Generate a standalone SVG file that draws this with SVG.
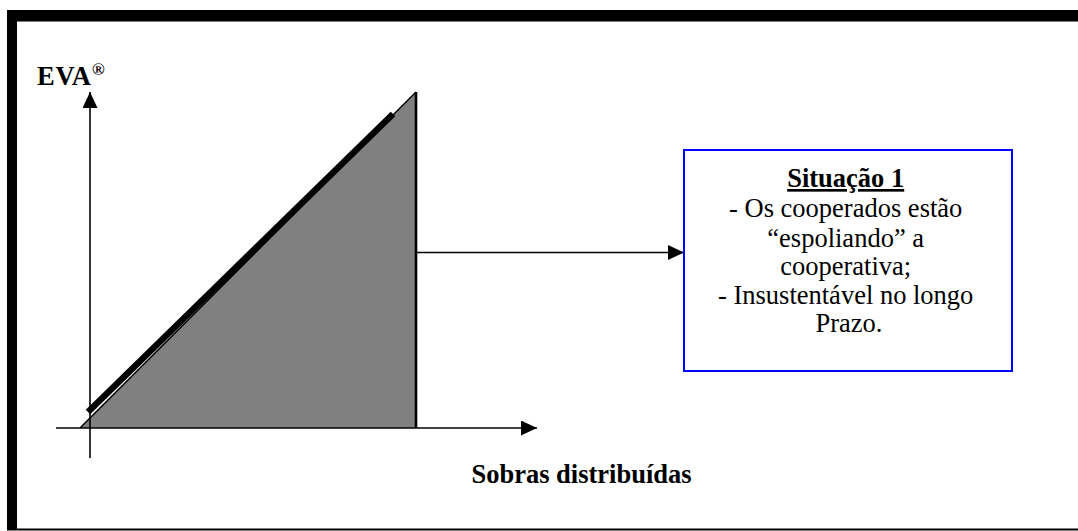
<svg xmlns="http://www.w3.org/2000/svg" width="1078" height="531" viewBox="0 0 1078 531">
<style>
.t{font-family:"Liberation Serif","Times New Roman",serif;font-size:26.5px;fill:#000}
.b{font-weight:bold}
.ax{stroke:#000;stroke-width:1.6;fill:none}
</style>
<defs>
<marker id="ah" viewBox="0 0 16 15" refX="16" refY="7.5" markerWidth="16" markerHeight="15" markerUnits="userSpaceOnUse" orient="auto">
<path d="M0,0 L16,7.5 L0,15 Z" fill="#000"/>
</marker>
</defs>
<rect width="1078" height="531" fill="#fff"/>
<g id="frame">
<rect x="7" y="10" width="1071" height="11.5" fill="#000"/>
<rect x="7" y="10" width="10" height="520" fill="#000"/>
<rect x="7" y="528.5" width="1071" height="2" fill="#000"/>
</g>
<g id="chart">
<polygon points="80,428 416,92 416,428" fill="#808080"/>
<line x1="80" y1="428" x2="416" y2="92" stroke="#000" stroke-width="1.5"/>
<line x1="416" y1="92" x2="416" y2="428" stroke="#000" stroke-width="2.6"/>
<line x1="88" y1="412" x2="393" y2="114" stroke="#000" stroke-width="6.5"/>
</g>
<g id="connectors">
<line class="ax" x1="90" y1="458" x2="90" y2="92" marker-end="url(#ah)"/>
<line class="ax" x1="56" y1="428" x2="537" y2="428" marker-end="url(#ah)"/>
<line class="ax" x1="417" y1="252.5" x2="684" y2="252.5" marker-end="url(#ah)"/>
</g>
<g id="label-eva">
<text class="t b" x="37" y="85" textLength="54">EVA</text>
<text class="t b" x="92" y="75" style="font-size:17px">®</text>
</g>
<g id="label-sobras">
<text class="t b" x="581.5" y="483" text-anchor="middle">Sobras distribuídas</text>
</g>
<g id="situacao1">
<rect x="684" y="150" width="328" height="221" fill="#fff" stroke="#0000ff" stroke-width="2"/>
<text class="t" text-anchor="middle" x="849">
<tspan class="b" x="849" y="187" text-decoration="underline">Situação 1</tspan>
<tspan x="849" y="217">- Os cooperados estão</tspan>
<tspan x="849" y="246.5">“espoliando” a</tspan>
<tspan x="849" y="275">cooperativa;</tspan>
<tspan x="849" y="303.5">- Insustentável no longo</tspan>
<tspan x="849" y="332">Prazo.</tspan>
</text>
</g>
</svg>
